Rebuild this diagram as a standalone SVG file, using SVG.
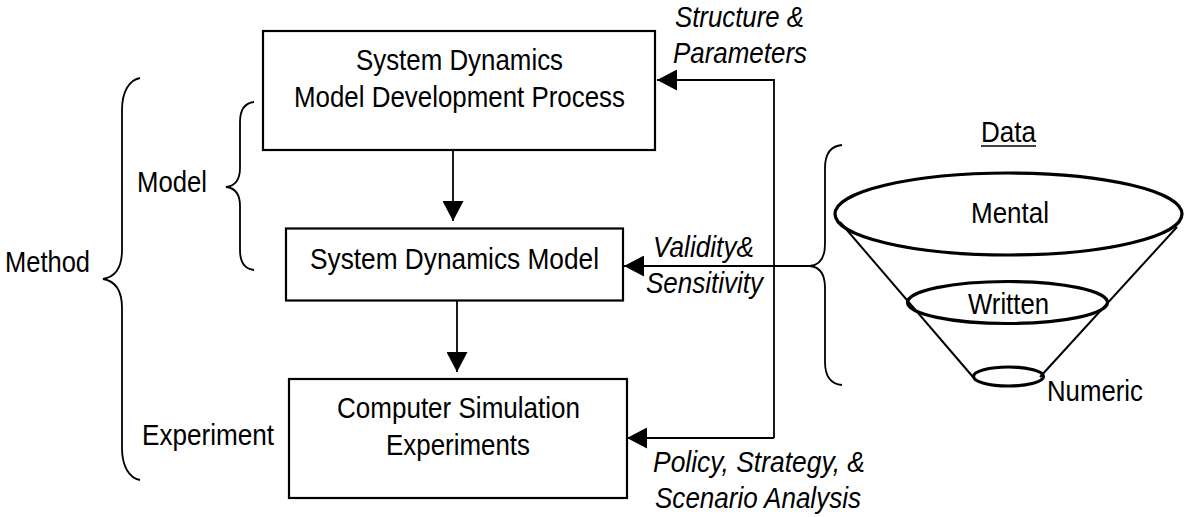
<svg xmlns="http://www.w3.org/2000/svg" width="1187" height="517" viewBox="0 0 1187 517">
  <style>
    text { font-family: "Liberation Sans", Arial, sans-serif; font-size: 29px; fill: #000; }
    .it { font-style: italic; }
    .box { fill: #fff; stroke: #000; stroke-width: 2.2; }
    .conn { fill: none; stroke: #000; stroke-width: 1.8; }
    .brace { fill: none; stroke: #000; stroke-width: 1.8; }
    .cone { fill: none; stroke: #000; stroke-width: 2; }
    .ring { fill: none; stroke: #000; stroke-width: 3.2; }
  </style>
  <defs>
    <marker id="arrow" viewBox="0 0 20 21" refX="20" refY="10.5" markerWidth="20" markerHeight="21" markerUnits="userSpaceOnUse" orient="auto">
      <path d="M0,0 L20,10.5 L0,21 z" fill="#000"/>
    </marker>
  </defs>

  <!-- process boxes -->
  <g id="node-development">
    <rect class="box" x="263" y="31" width="392" height="119"/>
    <text x="356" y="69.5" textLength="207" lengthAdjust="spacingAndGlyphs">System Dynamics</text>
    <text x="294" y="107" textLength="331" lengthAdjust="spacingAndGlyphs">Model Development Process</text>
  </g>
  <g id="node-model">
    <rect class="box" x="286" y="228.5" width="337" height="72"/>
    <text x="310" y="269" textLength="289" lengthAdjust="spacingAndGlyphs">System Dynamics Model</text>
  </g>
  <g id="node-experiments">
    <rect class="box" x="289" y="379" width="338" height="119"/>
    <text x="337" y="418" textLength="243" lengthAdjust="spacingAndGlyphs">Computer Simulation</text>
    <text x="386" y="455" textLength="144" lengthAdjust="spacingAndGlyphs">Experiments</text>
  </g>

  <!-- left-hand grouping braces -->
  <g id="label-method">
    <path class="brace" d="M140,78 C129,80 122,92 122,110 V250 C122,268 115,277 103,279 C115,281 122,290 122,308 V448 C122,466 129,478 140,480"/>
    <text x="5" y="272" textLength="85" lengthAdjust="spacingAndGlyphs">Method</text>
  </g>
  <g id="label-model">
    <path class="brace" d="M254,102 C245,103 240,110 240,122 V168 C240,180 235,186 226,187 C235,188 240,194 240,206 V250 C240,262 245,269 254,270"/>
    <text x="137" y="192" textLength="70" lengthAdjust="spacingAndGlyphs">Model</text>
  </g>
  <g id="label-experiment">
    <text x="142" y="445" textLength="132" lengthAdjust="spacingAndGlyphs">Experiment</text>
  </g>

  <!-- data cone -->
  <g id="node-data">
    <text x="981" y="142" textLength="55" lengthAdjust="spacingAndGlyphs">Data</text>
    <line x1="981" y1="146" x2="1036" y2="146" stroke="#000" stroke-width="1.6"/>
    <path class="brace" d="M842,145 C831,146 825,154 825,168 V244 C825,258 820,265 810,266 C820,267 825,274 825,288 V362 C825,376 831,384 842,385"/>
    <line class="cone" x1="840" y1="222" x2="973" y2="377"/>
    <line class="cone" x1="1177" y1="227" x2="1040" y2="377"/>
    <ellipse class="ring" cx="1008.5" cy="214" rx="173.5" ry="41"/>
    <ellipse class="ring" cx="1007.5" cy="302.5" rx="100" ry="21"/>
    <ellipse class="ring" cx="1008.5" cy="376.5" rx="35" ry="9.5"/>
    <text x="971" y="223" textLength="78" lengthAdjust="spacingAndGlyphs">Mental</text>
    <text x="968" y="314" textLength="81" lengthAdjust="spacingAndGlyphs">Written</text>
    <text x="1047" y="401" textLength="96" lengthAdjust="spacingAndGlyphs">Numeric</text>
  </g>

  <!-- connectors -->
  <g id="connectors">
    <line class="conn" x1="453" y1="150" x2="453" y2="221" marker-end="url(#arrow)"/>
    <line class="conn" x1="457" y1="300" x2="457" y2="372" marker-end="url(#arrow)"/>
    <path class="conn" d="M774,438 V80 H657" marker-end="url(#arrow)"/>
    <path class="conn" d="M774,438 H627" marker-end="url(#arrow)"/>
    <path class="conn" d="M810,266 H624" marker-end="url(#arrow)"/>
  </g>

  <!-- connector labels -->
  <g id="connector-labels">
    <text class="it" x="675" y="27" textLength="129" lengthAdjust="spacingAndGlyphs">Structure &amp;</text>
    <text class="it" x="673" y="63" textLength="134" lengthAdjust="spacingAndGlyphs">Parameters</text>
    <text class="it" x="653" y="257" textLength="101" lengthAdjust="spacingAndGlyphs">Validity&amp;</text>
    <text class="it" x="646" y="293" textLength="117" lengthAdjust="spacingAndGlyphs">Sensitivity</text>
    <text class="it" x="653" y="472" textLength="212" lengthAdjust="spacingAndGlyphs">Policy, Strategy, &amp;</text>
    <text class="it" x="655" y="508" textLength="206" lengthAdjust="spacingAndGlyphs">Scenario Analysis</text>
  </g>
</svg>
